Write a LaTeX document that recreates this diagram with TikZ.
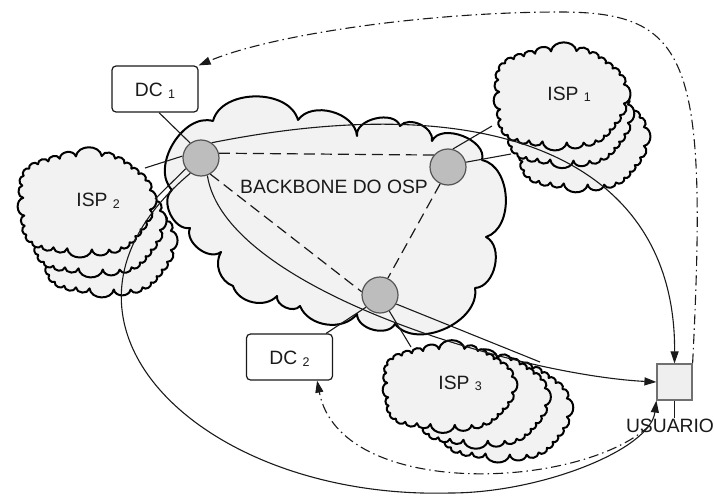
\documentclass[tikz,border=0pt]{standalone}
\usepackage{fontspec}
\setmainfont{Liberation Sans}
\usetikzlibrary{arrows.meta,calc,backgrounds}

\definecolor{ink}{HTML}{1A1A1A}
\definecolor{cloudfill}{HTML}{F2F2F2}
\definecolor{routerfill}{HTML}{BDBDBD}
\definecolor{routerline}{HTML}{555555}
\definecolor{userfill}{HTML}{EFEFEF}
\definecolor{userline}{HTML}{707070}

% lowered index after a name, e.g. DC 1
\newcommand\idx[1]{\raisebox{-1.7pt}{\fontsize{12.5}{13}\selectfont #1}}

% one bumpy ISP cloud: centre, half width, half height
% (cusps on a rounded rectangle, with gentle lobes)
\newcommand\ispcloud[3]{%
  \begin{scope}[shift={#1}]
    \filldraw[cloudpath] ({(#2-5)*lobr(351)*sqx(351)},{(#3-5)*lobr(351)*sqy(351)})
      \foreach \ang in {3,15,...,351}
      { to[bend left=80,looseness=1.2]
          ({(#2-5)*lobr(\ang)*sqx(\ang)},{(#3-5)*lobr(\ang)*sqy(\ang)}) }
      -- cycle;
  \end{scope}}

\tikzset{
  cloudpath/.style={draw=black, fill=cloudfill, line width=2pt, line join=round},
  lobe/.style={bend left=#1}, lobe/.default=75,
  wire/.style={draw=ink, line width=1.1pt},
  trunk/.style={draw=ink, line width=1.2pt, dash pattern=on 11pt off 6pt},
  ctrl/.style={draw=ink, line width=1.1pt, dash pattern=on 10pt off 4pt on 1.5pt off 4pt},
  tip/.style={-{Triangle[length=12pt,width=8pt]}},
  router/.style={circle, draw=routerline, fill=routerfill, line width=1.2pt,
                 minimum size=36pt, inner sep=0pt},
  dcbox/.style={draw=ink, fill=white, rounded corners=4pt, line width=1.2pt,
                minimum width=86pt, minimum height=46pt, inner sep=0pt,
                text height=15pt, text depth=0pt, text=ink,
                font=\fontsize{19.3}{19.3}\selectfont},
  usr/.style={draw=userline, fill=userfill, line width=1.2pt,
              minimum width=35pt, minimum height=36pt, inner sep=0pt},
  lbl/.style={font=\fontsize{19.3}{19.3}\selectfont, text=ink, inner sep=0pt}
}

\begin{document}
\begin{tikzpicture}[x=1pt,y=-1pt,
  declare function={
    lobr(\a)=0.96+0.035*cos(5*\a+30)+0.015*cos(3*\a);
    sqx(\a)=cos(\a)*abs(cos(\a))^(-0.3);
    sqy(\a)=sin(\a)*abs(sin(\a))^(-0.3);
  }]
\useasboundingbox (0,0) rectangle (714,495);

% routers, data centres and the user
\node[router] (A) at (201,158) {};
\node[router] (B) at (448,167) {};
\node[router] (C) at (380,295) {};
\node[dcbox] (DC1) at (155,89) {DC \idx{1}};
\node[dcbox] (DC2) at (289.5,357) {DC \idx{2}};
\node[usr] (U) at (674.5,382) {};

% texts
\node[lbl, anchor=base] at (334,193) {BACKBONE DO OSP};
\node[lbl, anchor=base west] at (547.2,100) {ISP \idx{1}};
\node[lbl, anchor=base west] at (76.2,206.7) {ISP \idx{2}};
\node[lbl, anchor=base west] at (438.2,389) {ISP \idx{3}};
\node[lbl, anchor=base] (ulab) at (670,432) {USUARIO};

% attachment points on the clouds
\coordinate (isp2a) at (145,168);
\coordinate (isp2b) at (155,199);
\coordinate (isp1a) at (492,126);
\coordinate (isp1b) at (511,154);
\coordinate (isp3a) at (411,347);
\coordinate (isp3b) at (540,362);
\coordinate (low) at (450,493);
\coordinate (high) at (560,12);
\coordinate (retn) at (649,426);

\begin{pgfonlayer}{background}
  % backbone cloud
  \filldraw[cloudpath] (172,190) to[lobe] (213,121) to[lobe] (298,120)
    to[lobe=70] (357,136) to[lobe=85] (400,126) to[lobe] (432,141)
    to[lobe=85] (482,160) to[lobe] (486,237) to[lobe] (475,288)
    to[lobe] (395,324) to[lobe] (357,314) to[lobe=60] (300,306)
    to[lobe] (277,296) to[lobe=60] (233,286) to[lobe=50] (221,252)
    to[lobe] (190,228) to[lobe] (172,190) -- cycle;

  % ISP clouds, back copies first
  \ispcloud{(580,140)}{69}{52}
  \ispcloud{(566,117)}{67}{51}
  \ispcloud{(559,97.5)}{70}{52.5}

  \ispcloud{(106,244)}{70}{53}
  \ispcloud{(95,224)}{70}{53}
  \ispcloud{(84,203.5)}{71}{53.5}

  \ispcloud{(502,411)}{70}{51}
  \ispcloud{(480,400)}{70}{48}
  \ispcloud{(447,387.5)}{70}{44.5}

  % access links
  \draw[wire] ($(DC1.south)+(4,0)$) -- (A.126);
  \draw[wire] (A.174) -- (isp2a);
  \draw[wire] (A.215) -- (isp2b);
  \draw[wire] (B.75) -- (isp1a);
  \draw[wire] (B.15) -- (isp1b);
  \draw[wire] (C.221) -- ($(DC2.north east)+(-7,0)$);
  \draw[wire] (C.-60) -- (isp3a);
  \draw[wire] (C.-29) -- (isp3b);

  % backbone trunks
  \draw[trunk] (A.15) -- (B.140);
  \draw[trunk] (A.-60) -- (C.170);
  \draw[trunk] (B.245) -- (C.65);

  % paths to the user
  \draw[wire,tip] (A.55) .. controls (500,85) and (676,164) .. (U.north);
  \draw[wire,tip] (A.-70) .. controls (225,290) and (520,375) .. (U.west);
  \draw[wire,tip] (A.235) .. controls (15,320) and (200,500) .. (low)
                          .. controls (540,493) and (650,450) .. (U.south west);

  % redirection paths
  \draw[ctrl,tip] (U.north east) .. controls (708,60) and (690,12) .. (high)
                  .. controls (430,12) and (273,34) .. (DC1.north east);
  \draw[ctrl,tip] (retn) .. controls (580,490) and (340,500) .. ($(DC2.south east)+(-16,0)$);

  % user label stem
  \draw[draw=ink, line width=1pt] (U.south) -- (U.south |- ulab.north);
\end{pgfonlayer}
\end{tikzpicture}
\end{document}
